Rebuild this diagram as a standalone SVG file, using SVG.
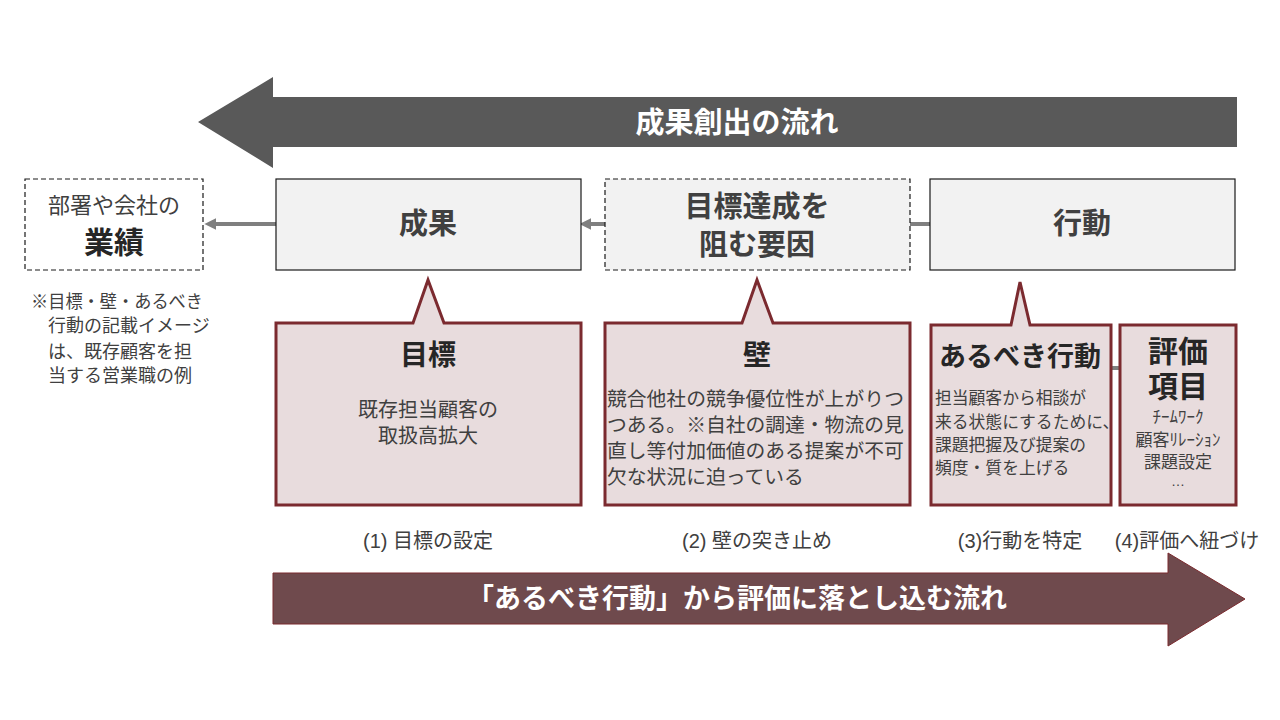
<svg xmlns="http://www.w3.org/2000/svg" width="1280" height="720" viewBox="0 0 1280 720">
<style>
text{font-family:"Liberation Sans","Noto Sans CJK JP","Noto Sans CJK SC",sans-serif;dominant-baseline:central;}
.t{fill:#404040;}
.b{font-weight:bold;}
.c{text-anchor:middle;}
.box{fill:#f2f2f2;stroke:#1a1a1a;stroke-width:1.2;}
.dash{stroke-dasharray:5 3;}
.call{fill:#e8dcdd;stroke:#7b2a2f;stroke-width:3;stroke-linejoin:miter;}
.conn{stroke:#7f7f7f;stroke-width:4;fill:none;}
</style>
<defs>
<marker id="ah" viewBox="0 0 10 10" refX="2" refY="5" markerWidth="3" markerHeight="3" orient="auto-start-reverse">
<path d="M0,0 L10,5 L0,10 Z" fill="#7f7f7f"/>
</marker>
</defs>
<rect width="1280" height="720" fill="#ffffff"/>

<g id="flow-top">
<path d="M1237,97 H273 V77 L198,122 L273,168 V147 H1237 Z" fill="#595959"/>
<text x="737" y="123" class="c b" font-size="29" fill="#ffffff">成果創出の流れ</text>
</g>

<g id="connectors">
<line x1="276" y1="224" x2="214" y2="224" class="conn" marker-end="url(#ah)"/>
<line x1="605" y1="224" x2="589" y2="224" class="conn" marker-end="url(#ah)"/>
<line x1="930" y1="224" x2="910" y2="224" class="conn"/>
<line x1="1111" y1="368" x2="1120" y2="368" class="conn"/>
</g>

<g id="gyoseki">
<rect x="25" y="179" width="178" height="91" fill="#ffffff" stroke="#1a1a1a" stroke-width="1.2" class="dash"/>
<text x="114" y="205" class="c t" font-size="22" fill="#262626">部署や会社の</text>
<text x="114" y="242" class="c b" font-size="30" fill="#262626">業績</text>
</g>

<g id="note">
<text x="31" y="302" font-size="18" class="t" textLength="172" lengthAdjust="spacingAndGlyphs">※目標・壁・あるべき</text>
<text x="48" y="326" font-size="18" class="t">行動の記載イメージ</text>
<text x="48" y="352" font-size="18" class="t">は、既存顧客を担</text>
<text x="48" y="376" font-size="18" class="t">当する営業職の例</text>
</g>

<g id="seika">
<rect x="276" y="179" width="305" height="91" class="box"/>
<text x="428" y="224" class="c b t" font-size="29">成果</text>
</g>

<g id="youin">
<rect x="605" y="179" width="305" height="91" class="box dash"/>
<text x="757" y="207" class="c b t" font-size="29">目標達成を</text>
<text x="757" y="245" class="c b t" font-size="29">阻む要因</text>
</g>

<g id="koudou">
<rect x="930" y="179" width="305" height="91" class="box"/>
<text x="1082" y="224" class="c b t" font-size="29">行動</text>
</g>

<g id="mokuhyo">
<path d="M276,323 H413 L428,280 L444,323 H581 V505 H276 Z" class="call"/>
<text x="428" y="355" class="c b" font-size="28" fill="#262626">目標</text>
<text x="428" y="410" class="c t" font-size="20">既存担当顧客の</text>
<text x="428" y="436" class="c t" font-size="20">取扱高拡大</text>
</g>

<g id="kabe">
<path d="M605,323 H742 L757,280 L773,323 H910 V505 H605 Z" class="call"/>
<text x="757" y="355" class="c b" font-size="28" fill="#262626">壁</text>
<text x="607" y="399" class="t" font-size="19.8">競合他社の競争優位性が上がりつ</text>
<text x="607" y="425" class="t" font-size="19.8">つある。※自社の調達・物流の見</text>
<text x="607" y="451" class="t" font-size="19.8">直し等付加価値のある提案が不可</text>
<text x="607" y="477" class="t" font-size="19.8">欠な状況に迫っている</text>
</g>

<g id="arubeki">
<path d="M931,325 H1011 L1020,282 L1030,325 H1111 V505 H931 Z" class="call"/>
<text x="1020" y="357" class="c b" font-size="27" fill="#262626">あるべき行動</text>
<text x="935" y="398" class="t" font-size="16.8">担当顧客から相談が</text>
<text x="935" y="422" class="t" font-size="16.8">来る状態にするために、</text>
<text x="935" y="445" class="t" font-size="16.8">課題把握及び提案の</text>
<text x="935" y="468" class="t" font-size="16.8">頻度・質を上げる</text>
</g>

<g id="hyouka">
<rect x="1120" y="325" width="116" height="180" class="call"/>
<text x="1178" y="351" class="c b" font-size="30" fill="#262626">評価</text>
<text x="1178" y="386" class="c b" font-size="30" fill="#262626">項目</text>
<text x="1178" y="417" class="c t" font-size="17">ﾁｰﾑﾜｰｸ</text>
<text x="1178" y="440" class="c t" font-size="17">顧客ﾘﾚｰｼｮﾝ</text>
<text x="1178" y="462" class="c t" font-size="17">課題設定</text>
<text x="1178" y="481" class="c t" font-size="14">…</text>
</g>

<g id="labels">
<text x="428" y="541" class="c t" font-size="20">(1) 目標の設定</text>
<text x="757" y="541" class="c t" font-size="20">(2) 壁の突き止め</text>
<text x="1020" y="541" class="c t" font-size="20">(3)行動を特定</text>
<text x="1187" y="541" class="c t" font-size="20">(4)評価へ紐づけ</text>
</g>

<g id="flow-bottom">
<path d="M273,573 H1168 V553 L1245,599 L1168,646 V624 H273 Z" fill="#6f4a4d" stroke="#7a2a2e" stroke-width="1"/>
<text x="737" y="599" class="c b" font-size="27" fill="#ffffff">「あるべき行動」から評価に落とし込む流れ</text>
</g>
</svg>
